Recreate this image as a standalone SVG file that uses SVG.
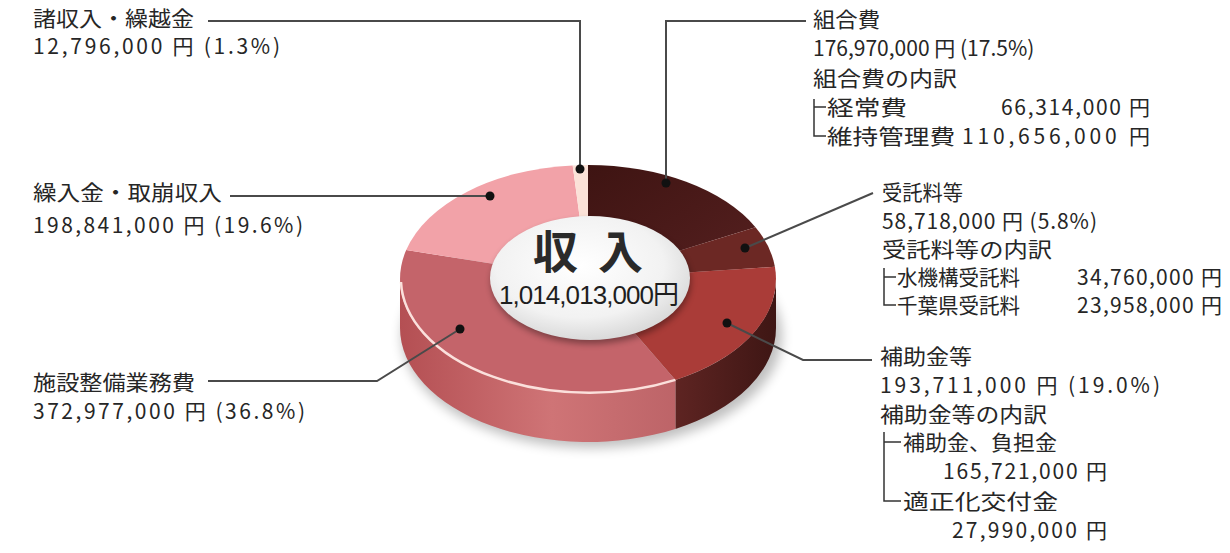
<svg xmlns="http://www.w3.org/2000/svg" width="1230" height="553" viewBox="0 0 1230 553">
  <style>
    .t { font-family: "Noto Sans CJK JP", "Noto Sans", sans-serif; font-size: 21px; fill: #262626; }
    .conn { fill: none; stroke: #4a4a4a; stroke-width: 2; }
    .dot { fill: #111; }
    .tree { fill: none; stroke: #333; stroke-width: 1.5; }
  </style>
  <defs>
    <linearGradient id="gSideL" x1="0" y1="0" x2="1" y2="0">
      <stop offset="0" stop-color="#b44f53"/>
      <stop offset="0.55" stop-color="#cf7476"/>
      <stop offset="1" stop-color="#bd6468"/>
    </linearGradient>
    <linearGradient id="gSideR" x1="0" y1="0" x2="1" y2="0">
      <stop offset="0" stop-color="#5e2422"/>
      <stop offset="1" stop-color="#3e1614"/>
    </linearGradient>
    <linearGradient id="gKumi" x1="0" y1="0" x2="1" y2="1">
      <stop offset="0" stop-color="#3e1412"/>
      <stop offset="1" stop-color="#562020"/>
    </linearGradient>
    <radialGradient id="gLabel" cx="0.45" cy="0.4" r="0.6">
      <stop offset="0" stop-color="#ffffff"/>
      <stop offset="0.7" stop-color="#f2f2f2"/>
      <stop offset="1" stop-color="#dadada"/>
    </radialGradient>
    <filter id="blur" x="-20%" y="-50%" width="140%" height="200%">
      <feGaussianBlur stdDeviation="6"/>
    </filter>
    <filter id="blur2" x="-20%" y="-50%" width="140%" height="200%">
      <feGaussianBlur stdDeviation="3"/>
    </filter>
  </defs>

  <!-- Pie chart -->
  <g id="pie">
    <ellipse cx="592" cy="336" rx="190" ry="112" fill="#000" opacity="0.25" filter="url(#blur)"/>
    <path d="M776 279 A188 114 0 0 1 675.4 379.9 L675.4 428.9 A188 114 0 0 0 776 328 Z" fill="url(#gSideR)"/>
    <path d="M675.4 379.9 A188 114 0 0 1 400 279 L400 328 A188 114 0 0 0 675.4 428.9 Z" fill="url(#gSideL)"/>
    <path d="M588 279 L588 165 A188 114 0 0 1 755.5 227.2 Z" fill="url(#gKumi)"/>
    <path d="M588 279 L755.5 227.2 A188 114 0 0 1 774.9 266.8 Z" fill="#6c2824"/>
    <path d="M588 279 L774.9 266.8 A188 114 0 0 1 675.4 379.9 Z" fill="#aa3c38"/>
    <path d="M588 279 L675.4 379.9 A188 114 0 0 1 406.2 250 Z" fill="#c4646a"/>
    <path d="M588 279 L406.2 250 A188 114 0 0 1 572.7 165.4 Z" fill="#f2a2a8"/>
    <path d="M588 279 L572.7 165.4 A188 114 0 0 1 588 165 Z" fill="#fbe2d8"/>
    <path d="M401 282 A188 114 0 0 0 675.4 379.9" fill="none" stroke="#fbe0dc" stroke-width="2.5"/>
  </g>

  <g id="center-label">
    <ellipse cx="591" cy="282" rx="100" ry="62" fill="#000" opacity="0.35" filter="url(#blur2)"/>
    <ellipse cx="590" cy="278" rx="100" ry="62" fill="url(#gLabel)"/>
    <text x="588" y="269" text-anchor="middle" font-family="'Noto Sans CJK JP', sans-serif" font-size="45" font-weight="bold" fill="#2a2a2a" textLength="110" lengthAdjust="spacing">収 入</text>
    <text x="589" y="304" text-anchor="middle" font-family="'Liberation Sans', 'Noto Sans CJK JP', sans-serif" font-size="26" fill="#1e1e1e" textLength="180" lengthAdjust="spacing">1,014,013,000円</text>
  </g>

  <!-- Connectors -->
  <g id="connectors">
    <path class="conn" d="M208 21 H580 V169"/>
    <path class="conn" d="M666 183 V21 H806"/>
    <path class="conn" d="M230 196 H490"/>
    <path class="conn" d="M208 381 H377 L460 329"/>
    <path class="conn" d="M745 248 L873 193"/>
    <path class="conn" d="M727 323 L803 360 H872"/>
    <circle class="dot" cx="580" cy="169" r="4.5"/>
    <circle class="dot" cx="666" cy="183" r="4.5"/>
    <circle class="dot" cx="490" cy="196" r="4.5"/>
    <circle class="dot" cx="460" cy="329" r="4.5"/>
    <circle class="dot" cx="745" cy="248" r="4.5"/>
    <circle class="dot" cx="727" cy="323" r="4.5"/>
  </g>

  <g id="node-shoshunyu">
    <text class="t" x="33" y="26" textLength="161" lengthAdjust="spacingAndGlyphs">諸収入・繰越金</text>
    <text class="t" x="33" y="54" textLength="247" lengthAdjust="spacing">12,796,000 円 (1.3%)</text>
  </g>

  <g id="node-kuriire">
    <text class="t" x="33" y="200" textLength="189" lengthAdjust="spacingAndGlyphs">繰入金・取崩収入</text>
    <text class="t" x="33" y="233" textLength="270" lengthAdjust="spacing">198,841,000 円 (19.6%)</text>
  </g>

  <g id="node-shisetsu">
    <text class="t" x="33" y="390" textLength="162" lengthAdjust="spacingAndGlyphs">施設整備業務費</text>
    <text class="t" x="33" y="419" textLength="272" lengthAdjust="spacing">372,977,000 円 (36.8%)</text>
  </g>

  <g id="node-kumiaihi">
    <text class="t" x="813" y="27" textLength="67" lengthAdjust="spacingAndGlyphs">組合費</text>
    <text class="t" x="813" y="56">176,970,000 円 (17.5%)</text>
    <text class="t" x="813" y="86" textLength="144" lengthAdjust="spacingAndGlyphs">組合費の内訳</text>
    <path class="tree" d="M814 99 V136 H826 M814 107 H826"/>
    <text class="t" x="827" y="115" textLength="80" lengthAdjust="spacingAndGlyphs">経常費</text>
    <text class="t" x="1001" y="115" textLength="149" lengthAdjust="spacing">66,314,000 円</text>
    <text class="t" x="827" y="144" textLength="128" lengthAdjust="spacingAndGlyphs">維持管理費</text>
    <text class="t" x="962" y="144" textLength="188" lengthAdjust="spacing">110,656,000 円</text>
  </g>

  <g id="node-jutakuryo">
    <text class="t" x="882" y="200" textLength="81" lengthAdjust="spacingAndGlyphs">受託料等</text>
    <text class="t" x="882" y="229" textLength="215" lengthAdjust="spacing">58,718,000 円 (5.8%)</text>
    <text class="t" x="882" y="257" textLength="170" lengthAdjust="spacingAndGlyphs">受託料等の内訳</text>
    <path class="tree" d="M884 268 V305 H896 M884 277 H896"/>
    <text class="t" x="897" y="285" textLength="123" lengthAdjust="spacingAndGlyphs">水機構受託料</text>
    <text class="t" x="1077" y="285" textLength="145" lengthAdjust="spacing">34,760,000 円</text>
    <text class="t" x="897" y="313" textLength="123" lengthAdjust="spacingAndGlyphs">千葉県受託料</text>
    <text class="t" x="1077" y="313" textLength="145" lengthAdjust="spacing">23,958,000 円</text>
  </g>

  <g id="node-hojokin">
    <text class="t" x="880" y="364" textLength="92" lengthAdjust="spacingAndGlyphs">補助金等</text>
    <text class="t" x="880" y="393" textLength="280" lengthAdjust="spacing">193,711,000 円 (19.0%)</text>
    <text class="t" x="880" y="422" textLength="167" lengthAdjust="spacingAndGlyphs">補助金等の内訳</text>
    <path class="tree" d="M884 432 V501 H901 M884 442 H901"/>
    <text class="t" x="903" y="450" textLength="154" lengthAdjust="spacingAndGlyphs">補助金、負担金</text>
    <text class="t" x="943" y="479" textLength="164" lengthAdjust="spacing">165,721,000 円</text>
    <text class="t" x="903" y="509" textLength="155" lengthAdjust="spacingAndGlyphs">適正化交付金</text>
    <text class="t" x="952" y="538" textLength="155" lengthAdjust="spacing">27,990,000 円</text>
  </g>
</svg>
